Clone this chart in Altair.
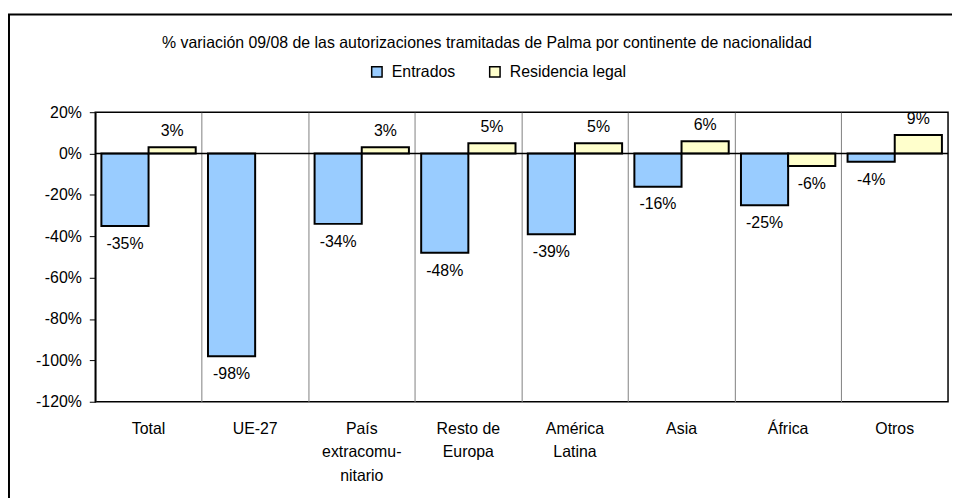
import altair as alt
import pandas as pd

# ---- data ----
categories = ["Total", "UE-27", "País|extracomu-|nitario", "Resto de|Europa",
              "América|Latina", "Asia", "África", "Otros"]
series = ["Entrados", "Residencia legal"]
entrados = [-35, -98, -34, -48, -39, -16, -25, -4]
residencia = [3, None, 3, 5, 5, 6, -6, 9]
y_ticks = [-120, -100, -80, -60, -40, -20, 0, 20]
title_text = "% variación 09/08 de las autorizaciones tramitadas de Palma por continente de nacionalidad"

rows = []
for c, e, r in zip(categories, entrados, residencia):
    for s, v in zip(series, (e, r)):
        if v is not None:
            rows.append({"cat": c, "serie": s, "value": v, "label": f"{v}%"})
df = pd.DataFrame(rows)

FONT = "Liberation Sans"
FS = 16
W, H = 860, 292

x_enc = alt.X("cat:N", sort=categories,
              scale=alt.Scale(paddingInner=0, paddingOuter=0),
              axis=alt.Axis(title=None, labelAngle=0, ticks=False, domain=False,
                            labelPadding=19, labelLineHeight=23.5,
                            labelExpr="split(datum.label, '|')",
                            labelFont=FONT, labelFontSize=FS, labelColor="black",
                            grid=True, gridColor="#808080", gridWidth=1,
                            bandPosition=0))
xo_enc = alt.XOffset("serie:N", sort=series,
                     scale=alt.Scale(paddingInner=0, paddingOuter=0.13))
y_enc = alt.Y("value:Q",
              scale=alt.Scale(domain=[-120, 20], nice=False, zero=False),
              axis=alt.Axis(title=None, values=y_ticks, grid=False,
                            labelExpr="datum.value + '%'",
                            tickSize=6, tickColor="black", tickWidth=1,
                            domainColor="black", domainWidth=1.5,
                            labelPadding=8, labelFont=FONT, labelFontSize=FS,
                            labelColor="black"))

base = alt.Chart(df)

bars = base.mark_bar(stroke="black", strokeWidth=2, cornerRadius=0).encode(
    x=x_enc, xOffset=xo_enc, y=y_enc,
    fill=alt.Fill("serie:N", sort=series,
                  scale=alt.Scale(domain=series, range=["#99CCFF", "#FFFFCC"]),
                  legend=alt.Legend(title=None, orient="none", direction="horizontal",
                                    legendX=276, legendY=-49, padding=0,
                                    symbolType="square", symbolSize=110,
                                    symbolStrokeColor="black", symbolStrokeWidth=1.5,
                                    labelFont=FONT, labelFontSize=FS, labelColor="black",
                                    labelOffset=7, columnPadding=30)),
)

pos_labels = base.transform_filter("datum.value >= 0").mark_text(
    baseline="bottom", dy=-8, font=FONT, fontSize=FS, color="black"
).encode(x=alt.X("cat:N", sort=categories), xOffset=alt.XOffset("serie:N", sort=series),
         y="value:Q", text="label:N")

neg_labels = base.transform_filter("datum.value < 0").mark_text(
    baseline="top", dy=10, font=FONT, fontSize=FS, color="black"
).encode(x=alt.X("cat:N", sort=categories), xOffset=alt.XOffset("serie:N", sort=series),
         y="value:Q", text="label:N")

zero_df = pd.DataFrame({"z": [0]})
zero_line = alt.Chart(zero_df).mark_rule(color="black", strokeWidth=1.5).encode(
    y=alt.Y("z:Q"))

title_df = pd.DataFrame({"t": [title_text]})
title = alt.Chart(title_df).mark_text(
    font=FONT, fontSize=FS, color="black", align="center", baseline="alphabetic"
).encode(x=alt.value(395), y=alt.value(-65), text="t:N")

frame = alt.Chart(pd.DataFrame({"f": [1]})).mark_rect(
    fillOpacity=0, stroke="black", strokeWidth=2
).encode(x=alt.value(-87), x2=alt.value(1000), y=alt.value(-98.5), y2=alt.value(1000))

chart = alt.layer(bars, zero_line, pos_labels, neg_labels, title, frame).properties(
    width=W, height=H,
    autosize=alt.AutoSizeParams(type="none"),
    padding={"left": 88, "top": 103, "right": 4, "bottom": 95},
    background="white",
).configure_view(stroke="black", strokeWidth=1.5)

chart.save("out.html", embed_options={"renderer": "svg", "actions": False})
